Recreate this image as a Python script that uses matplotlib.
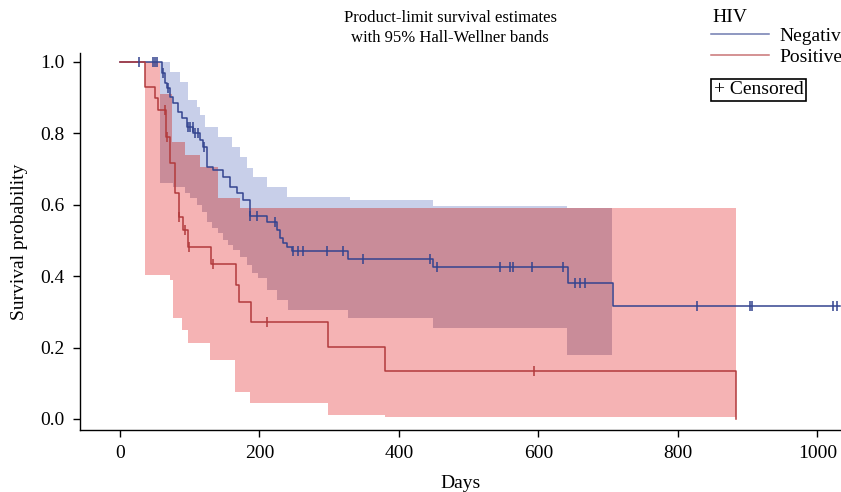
import numpy as np
import matplotlib
matplotlib.use("Agg")
import matplotlib.pyplot as plt
from matplotlib.lines import Line2D

plt.rcParams['font.family'] = ['Liberation Serif', 'DejaVu Serif']

# ---------------- data ----------------
# Kaplan-Meier step curves (time in days, survival)
neg_t = [0, 60, 64.5, 67, 72, 76, 83, 89, 96, 105, 115, 119, 125, 133, 148, 158, 168, 176,
         186, 211, 225, 229, 234, 239, 247, 327, 449, 642, 707]
neg_s = [1.0, 0.969, 0.941, 0.927, 0.902, 0.885, 0.86, 0.843, 0.818, 0.801, 0.781, 0.762, 0.706,
         0.697, 0.678, 0.65, 0.633, 0.613, 0.569, 0.552, 0.529, 0.507, 0.493, 0.482, 0.471,
         0.448, 0.426, 0.381, 0.317]
neg_end = 1032
neg_cens = [28, 47, 50, 53, 62, 69, 97, 101, 104, 108, 112, 120, 187, 196, 222, 248, 255, 262,
            297, 320, 348, 444, 454, 545, 559, 563, 591, 635, 652, 659, 667, 827, 903, 906,
            1022, 1028]

pos_t = [0, 36, 50, 54, 66, 72, 79, 84, 90, 97.5, 130, 166, 171, 188, 298, 380, 883]
pos_s = [1.0, 0.93, 0.90, 0.866, 0.79, 0.717, 0.633, 0.566, 0.529, 0.482, 0.434, 0.375, 0.328,
         0.272, 0.202, 0.134, 0.0]
pos_end = 883
pos_cens = [65, 67, 85, 93, 99, 133, 211, 594]

# Hall-Wellner bands (step functions: start times and values)
neg_up_t = [57, 72, 86, 97.5, 110, 115, 122, 140.5, 160.6, 172, 182, 191, 211, 239, 330, 449, 641]
neg_up_s = [1.0, 0.972, 0.944, 0.894, 0.874, 0.852, 0.818, 0.79, 0.762, 0.734, 0.703, 0.678,
            0.65, 0.622, 0.613, 0.597, 0.591]
neg_lo_t = [57, 76, 93, 100, 110, 118, 125, 132, 140.5, 148, 155, 162, 172, 182, 189, 198, 211,
            225, 241, 327, 449, 641]
neg_lo_s = [0.66, 0.65, 0.633, 0.62, 0.60, 0.58, 0.553, 0.535, 0.52, 0.50, 0.487, 0.473, 0.454,
            0.431, 0.409, 0.395, 0.361, 0.333, 0.305, 0.283, 0.255, 0.18]
neg_band_end = 706

pos_up_t = [36, 57, 75, 93, 115, 140.5, 172]
pos_up_s = [1.0, 0.91, 0.776, 0.74, 0.705, 0.62, 0.59]
pos_lo_t = [36, 72, 76, 89, 97.5, 129, 165, 186, 298, 380]
pos_lo_s = [0.403, 0.39, 0.283, 0.25, 0.213, 0.165, 0.075, 0.045, 0.011, 0.005]
pos_band_end = 883

groups = ['Negative', 'Positive']
x_ticks = [0, 200, 400, 600, 800, 1000]
y_ticks = [0.0, 0.2, 0.4, 0.6, 0.8, 1.0]

# ---------------- styles ----------------
c_neg_line = '#34448f'
c_pos_line = '#b23a3c'
c_neg_band = '#c8cfe9'
c_pos_band = '#f5b3b4'
c_overlap = '#c98c99'
FS = 14
FS_TITLE = 12


def step_eval(t, v, x, side='right'):
    t = np.asarray(t, float)
    v = np.asarray(v, float)
    idx = np.searchsorted(t, x, side=side) - 1
    idx = np.clip(idx, 0, len(v) - 1)
    return v[idx]


def band_arrays(up_t, up_s, lo_t, lo_s, start, end):
    grid = np.unique(np.concatenate([up_t, lo_t, [start, end]]))
    grid = grid[(grid >= start) & (grid <= end)]
    return grid, step_eval(up_t, up_s, grid), step_eval(lo_t, lo_s, grid)


fig = plt.figure(figsize=(8.41, 4.92), dpi=100)
ax = fig.add_axes([80 / 841, 1 - 430 / 492, 1 - 80 / 841, (430 - 53) / 492])

# bands
g_n, u_n, l_n = band_arrays(neg_up_t, neg_up_s, neg_lo_t, neg_lo_s, neg_up_t[0], neg_band_end)
g_p, u_p, l_p = band_arrays(pos_up_t, pos_up_s, pos_lo_t, pos_lo_s, pos_up_t[0], pos_band_end)
ax.fill_between(g_n, l_n, u_n, step='post', color=c_neg_band, lw=0, zorder=1)
ax.fill_between(g_p, l_p, u_p, step='post', color=c_pos_band, lw=0, zorder=2)

o_start = max(neg_up_t[0], pos_up_t[0])
o_end = min(neg_band_end, pos_band_end)
g_o = np.unique(np.concatenate([g_n, g_p]))
g_o = g_o[(g_o >= o_start) & (g_o <= o_end)]
up_o = np.minimum(step_eval(neg_up_t, neg_up_s, g_o), step_eval(pos_up_t, pos_up_s, g_o))
lo_o = np.maximum(step_eval(neg_lo_t, neg_lo_s, g_o), step_eval(pos_lo_t, pos_lo_s, g_o))
ax.fill_between(g_o, lo_o, up_o, step='post', color=c_overlap, lw=0, zorder=3)

# KM lines
nt = np.array(neg_t + [neg_end], float)
ns = np.array(neg_s + [neg_s[-1]], float)
ax.step(nt, ns, where='post', color=c_neg_line, lw=1.1, zorder=5)
pt = np.array(pos_t, float)
ps = np.array(pos_s, float)
ax.step(pt, ps, where='post', color=c_pos_line, lw=1.1, zorder=6)

# censored marks
ax.plot(neg_cens, step_eval(neg_t, neg_s, np.array(neg_cens, float)), ls='none', marker='|',
        ms=7, mew=1.1, color=c_neg_line, zorder=7)
ax.plot(pos_cens, step_eval(pos_t, pos_s, np.array(pos_cens, float)), ls='none', marker='|',
        ms=7, mew=1.1, color=c_pos_line, zorder=8)

# axes
ax.set_xlim(-57.3, 1033.7)
ax.set_ylim(-0.031, 1.025)
ax.set_xticks(x_ticks)
ax.set_yticks(y_ticks)
ax.set_yticklabels([f'{v:.1f}' for v in y_ticks])
for s in ['top', 'right']:
    ax.spines[s].set_visible(False)
for s in ['left', 'bottom']:
    ax.spines[s].set_linewidth(1.0)
ax.tick_params(direction='out', length=5, width=1, labelsize=FS, pad=6)
ax.set_xlabel('Days', fontsize=FS, labelpad=9)
ax.set_ylabel('Survival probability', fontsize=FS, labelpad=9)
ax.patch.set_visible(False)

fig.text(450 / 841, 1 - 28 / 492, 'Product-limit survival estimates\nwith 95% Hall-Wellner bands',
         ha='center', va='center', fontsize=FS_TITLE, linespacing=1.3)

# legend
fig.text(712 / 841, 1 - 18 / 492, 'HIV', ha='left', va='center', fontsize=FS)
handles = [Line2D([0], [0], color=c_neg_line, lw=1.1, alpha=0.7),
           Line2D([0], [0], color=c_pos_line, lw=1.1, alpha=0.7)]
leg = fig.legend(handles, groups, loc='upper left',
                 bbox_to_anchor=(711 / 841, 1 - 27 / 492), frameon=False, fontsize=FS,
                 handlelength=3.0, handletextpad=0.5,
                 labelspacing=0.2, borderpad=0, borderaxespad=0)

fig.text(714 / 841, 1 - 90 / 492, '+ Censored', ha='left', va='center', fontsize=FS,
         bbox=dict(boxstyle='square,pad=0.14', fc='white', ec='black', lw=1.2))

fig.savefig('out.png', dpi=100)
